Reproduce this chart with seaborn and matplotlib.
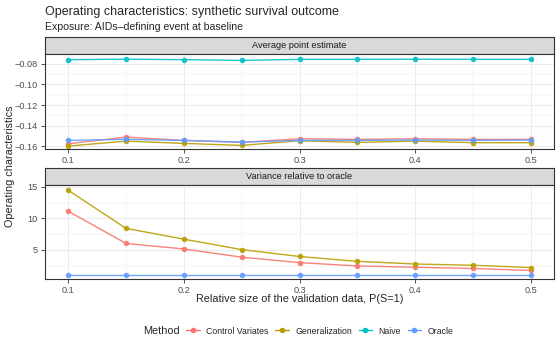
import pandas as pd
import matplotlib.pyplot as plt
import seaborn as sns
from matplotlib.lines import Line2D
from matplotlib.ticker import FixedLocator

p_s = [0.10, 0.15, 0.20, 0.25, 0.30, 0.35, 0.40, 0.45, 0.50]
methods = ["Control Variates", "Generalization", "Naive", "Oracle"]
colors = ["#F8766D", "#B79F00", "#00BFC4", "#619CFF"]

# average point estimate
est_cv = [-0.1574, -0.1510, -0.1542, -0.1561, -0.1526, -0.1532, -0.1526, -0.1532, -0.1532]
est_gen = [-0.1597, -0.1549, -0.1571, -0.1590, -0.1545, -0.1561, -0.1549, -0.1564, -0.1564]
est_naive = [-0.0761, -0.0756, -0.0761, -0.0768, -0.0758, -0.0758, -0.0756, -0.0758, -0.0758]
est_oracle = [-0.1542, -0.1532, -0.1542, -0.1558, -0.1542, -0.1542, -0.1538, -0.1542, -0.1538]

# variance relative to oracle
var_cv = [11.13, 6.02, 5.15, 3.85, 2.99, 2.46, 2.26, 2.06, 1.75]
var_gen = [14.44, 8.41, 6.70, 5.05, 3.96, 3.19, 2.77, 2.57, 2.21]
var_oracle = [1.0, 1.0, 1.0, 1.0, 1.0, 1.0, 1.0, 1.0, 1.0]

est_df = pd.DataFrame({
    "p": p_s * 4,
    "value": est_cv + est_gen + est_naive + est_oracle,
    "Method": [m for m in methods for _ in p_s],
})
var_df = pd.DataFrame({
    "p": p_s * 3,
    "value": var_cv + var_gen + var_oracle,
    "Method": [m for m in ["Control Variates", "Generalization", "Oracle"] for _ in p_s],
})

sns.set_style("white")
plt.rcParams["font.family"] = ["Liberation Sans", "DejaVu Sans"]
pal = dict(zip(methods, colors))

fig = plt.figure(figsize=(5.6, 3.5), dpi=100)
W, H = 560, 350


def box(x0, y0, x1, y1):
    return [x0 / W, 1 - y1 / H, (x1 - x0) / W, (y1 - y0) / H]


def strip(rect, label):
    s = fig.add_axes(rect)
    s.set_facecolor("#D9D9D9")
    s.set_xticks([])
    s.set_yticks([])
    for sp in s.spines.values():
        sp.set_color("#333333")
        sp.set_linewidth(0.8)
    s.text(0.5, 0.5, label, ha="center", va="center", fontsize=6.6, color="#1A1A1A",
           transform=s.transAxes)


def panel(rect, df, yticks, yminor, ylim, ylabels):
    ax = fig.add_axes(rect)
    sns.lineplot(data=df, x="p", y="value", hue="Method", palette=pal, ax=ax,
                 marker="o", markersize=4, markeredgewidth=0, linewidth=1.0,
                 legend=False)
    for ln in ax.lines:
        ln.set_alpha(0.9)
    ax.set_xlim(0.08, 0.52)
    ax.set_ylim(*ylim)
    ax.xaxis.set_major_locator(FixedLocator([0.1, 0.2, 0.3, 0.4, 0.5]))
    ax.xaxis.set_minor_locator(FixedLocator([0.15, 0.25, 0.35, 0.45]))
    ax.set_xticklabels(["0.1", "0.2", "0.3", "0.4", "0.5"])
    ax.yaxis.set_major_locator(FixedLocator(yticks))
    ax.yaxis.set_minor_locator(FixedLocator(yminor))
    ax.set_yticklabels(ylabels)
    ax.grid(which="major", color="#EBEBEB", linewidth=0.7)
    ax.grid(which="minor", color="#EBEBEB", linewidth=0.35)
    ax.set_axisbelow(True)
    ax.tick_params(which="major", length=3, width=0.6, color="#333333",
                   labelsize=6.6, labelcolor="#4D4D4D", pad=2,
                   left=True, bottom=True)
    ax.tick_params(which="minor", length=0)
    for sp in ax.spines.values():
        sp.set_color("#333333")
        sp.set_linewidth(0.8)
    ax.set_xlabel("")
    ax.set_ylabel("")
    return ax


strip(box(45, 37.3, 554, 54.3), "Average point estimate")
panel(box(45, 54.3, 554, 149.3), est_df,
      [-0.16, -0.14, -0.12, -0.10, -0.08],
      [-0.15, -0.13, -0.11, -0.09],
      (-0.1628, -0.0709),
      ["\u22120.16", "\u22120.14", "\u22120.12", "\u22120.10", "\u22120.08"])

strip(box(45, 168.3, 554, 185), "Variance relative to oracle")
panel(box(45, 185, 554, 279.3), var_df,
      [5, 10, 15], [2.5, 7.5, 12.5], (0.35, 15.27), ["5", "10", "15"])

fig.text(45 / W, 1 - 12 / H, "Operating characteristics: synthetic survival outcome",
         fontsize=9.0, va="center", ha="left")
fig.text(45 / W, 1 - 27 / H, "Exposure: AIDs\u2013defining event at baseline",
         fontsize=7.6, va="center", ha="left")
fig.text(10 / W, 1 - 166 / H, "Operating characteristics", rotation=90,
         fontsize=7.8, va="center", ha="center")
fig.text(299.5 / W, 1 - 299 / H, "Relative size of the validation data, P(S=1)",
         fontsize=7.8, va="center", ha="center")

fig.text(143 / W, 1 - 331 / H, "Method", fontsize=7.8, va="center", ha="left")
handles = [Line2D([0], [0], color=c, marker="o", markersize=4, markeredgewidth=0,
                  linewidth=1.0) for c in colors]
fig.legend(handles, methods, loc="center left", bbox_to_anchor=(186 / W, 1 - 331 / H),
           ncol=4, frameon=False, fontsize=6.3, handlelength=1.55, handletextpad=0.75,
           columnspacing=0.75, borderpad=0, borderaxespad=0)

fig.savefig("out.png", dpi=100)
